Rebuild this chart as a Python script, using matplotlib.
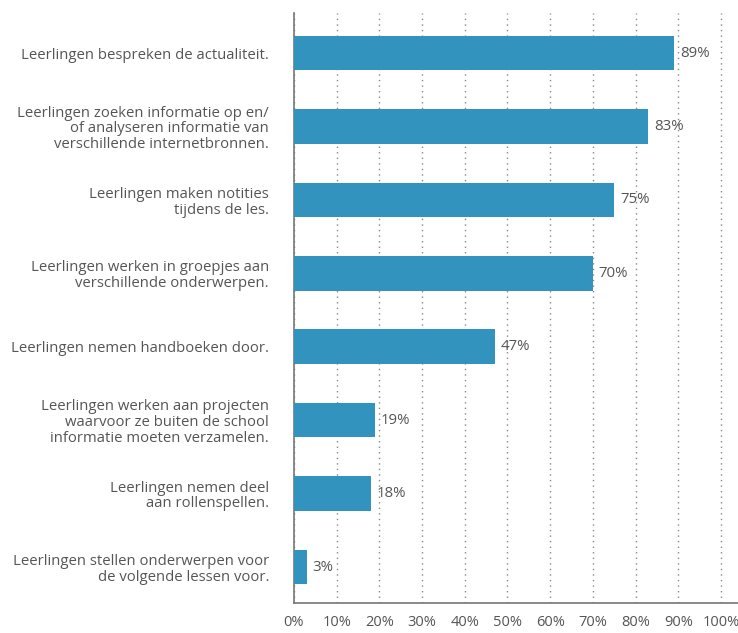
import matplotlib.pyplot as plt

# Gegevens
categorieen = [
    "Leerlingen bespreken de actualiteit.",
    "Leerlingen zoeken informatie op en/\nof analyseren informatie van\nverschillende internetbronnen.",
    "Leerlingen maken notities\ntijdens de les.",
    "Leerlingen werken in groepjes aan\nverschillende onderwerpen.",
    "Leerlingen nemen handboeken door.",
    "Leerlingen werken aan projecten\nwaarvoor ze buiten de school\ninformatie moeten verzamelen.",
    "Leerlingen nemen deel\naan rollenspellen.",
    "Leerlingen stellen onderwerpen voor\nde volgende lessen voor.",
]
percentages = [89, 83, 75, 70, 47, 19, 18, 3]
tick_waarden = [0, 10, 20, 30, 40, 50, 60, 70, 80, 90, 100]
tick_labels = ["0%", "10%", "20%", "30%", "40%", "50%", "60%", "70%", "80%", "90%", "100%"]

plt.rcParams['font.family'] = ['Open Sans', 'DejaVu Sans']
tekstkleur = "#555555"

fig = plt.figure(figsize=(7.38, 6.33), dpi=100)
ax = fig.add_axes([294 / 738, 1 - 603 / 633, 1 - 294 / 738, (603 - 13) / 633])

n = len(categorieen)
posities = [n - 1 - i for i in range(n)]
ax.barh(posities, percentages, height=0.47, color="#3193be", zorder=3)

for p, v in zip(posities, percentages):
    ax.text(v + 1.4, p, f"{v}%", va="center", ha="left", fontsize=10.8, color=tekstkleur, zorder=4)

ax.set_xlim(0, 104)
ax.set_ylim(-0.49, n - 1 + 0.545)
ax.set_xticks(tick_waarden)
ax.set_xticklabels(tick_labels, fontsize=10.5, color=tekstkleur)
ax.set_yticks(posities)
ax.set_yticklabels(categorieen, fontsize=10.7, color=tekstkleur, linespacing=1.08)
ax.tick_params(axis="both", length=0)
ax.tick_params(axis="y", pad=18)
ax.tick_params(axis="x", pad=9)

ax.grid(axis="x", linestyle=(0, (1, 3)), color="#888888", linewidth=1, zorder=0)
ax.grid(axis="y", visible=False)
for s in ["top", "right"]:
    ax.spines[s].set_visible(False)
for s in ["left", "bottom"]:
    ax.spines[s].set_color("#777777")
    ax.spines[s].set_linewidth(1.2)

fig.savefig("out.png", dpi=100)
